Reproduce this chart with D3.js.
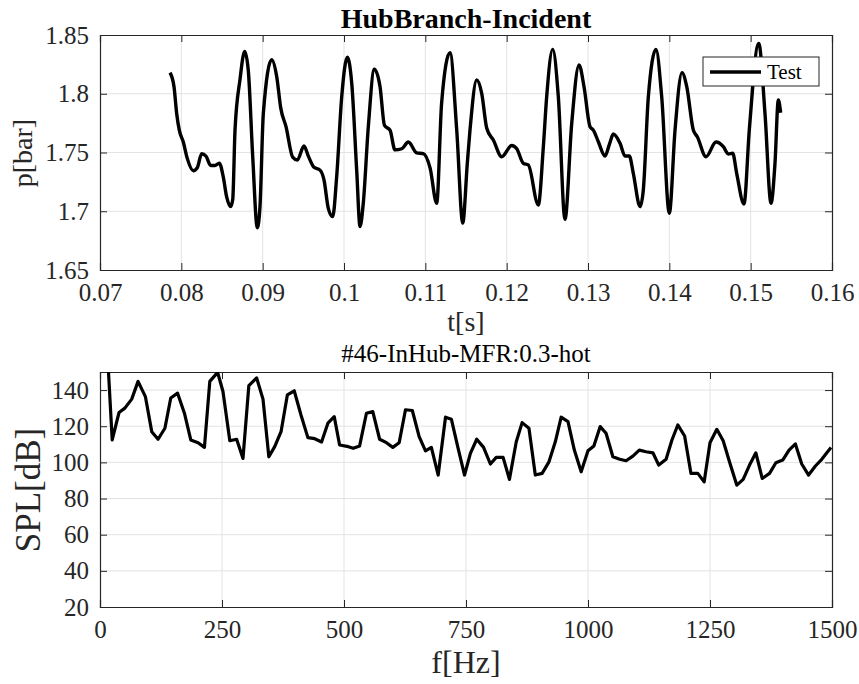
<!DOCTYPE html>
<html>
<head>
<meta charset="utf-8">
<script src="https://cdn.jsdelivr.net/npm/d3@7"></script>
<style>
  body { margin: 0; background: #fff; }
</style>
</head>
<body>
<div id="chart"></div>
<script>
// top panel: pressure signal
let timeS = [0.07861, 0.07910, 0.07943, 0.07975, 0.08024, 0.08073, 0.08147, 0.08196, 0.08250, 0.08303,
  0.08361, 0.08414, 0.08467, 0.08516, 0.08558, 0.08607, 0.08632, 0.08660, 0.08721, 0.08779,
  0.08823, 0.08878, 0.08934, 0.08967, 0.09008, 0.09111, 0.09173, 0.09222, 0.09287, 0.09369,
  0.09426, 0.09508, 0.09561, 0.09631, 0.09705, 0.09754, 0.09807, 0.09861, 0.09910, 0.09972,
  0.10041, 0.10095, 0.10156, 0.10197, 0.10237, 0.10299, 0.10373, 0.10443, 0.10498, 0.10566,
  0.10627, 0.10710, 0.10791, 0.10894, 0.10975, 0.11058, 0.11140, 0.11200, 0.11303, 0.11386,
  0.11460, 0.11516, 0.11549, 0.11632, 0.11693, 0.11755, 0.11836, 0.11939, 0.12062, 0.12124,
  0.12205, 0.12266, 0.12389, 0.12451, 0.12492, 0.12566, 0.12635, 0.12717, 0.12800, 0.12890,
  0.12951, 0.13025, 0.13066, 0.13127, 0.13209, 0.13267, 0.13311, 0.13394, 0.13455, 0.13508,
  0.13557, 0.13640, 0.13680, 0.13742, 0.13836, 0.13906, 0.14000, 0.14070, 0.14156, 0.14214,
  0.14295, 0.14344, 0.14451, 0.14574, 0.14664, 0.14725, 0.14779, 0.14828, 0.14918, 0.14983,
  0.15099, 0.15176, 0.15250, 0.15299, 0.15340, 0.15369]
let pressureBar = [1.818, 1.806, 1.783, 1.769, 1.759, 1.745, 1.7345, 1.737, 1.749, 1.747,
  1.739, 1.739, 1.741, 1.729, 1.712, 1.704, 1.710, 1.769, 1.812, 1.836,
  1.820, 1.746, 1.686, 1.704, 1.783, 1.829, 1.8145, 1.788, 1.772, 1.746,
  1.7436, 1.7555, 1.747, 1.7374, 1.735, 1.7266, 1.7025, 1.6954, 1.7294, 1.7975,
  1.831, 1.809, 1.735, 1.687, 1.7068, 1.772, 1.8208, 1.806, 1.773, 1.769,
  1.7522, 1.7532, 1.7589, 1.7497, 1.749, 1.7369, 1.7068, 1.7919, 1.835, 1.769,
  1.690, 1.7408, 1.769, 1.8117, 1.8004, 1.7706, 1.7606, 1.7464, 1.756, 1.7532,
  1.7408, 1.7394, 1.7053, 1.7549, 1.7975, 1.8378, 1.7975, 1.6932, 1.7749, 1.8245,
  1.806, 1.772, 1.769, 1.7592, 1.747, 1.7578, 1.7657, 1.7578, 1.747, 1.747,
  1.7323, 1.7039, 1.7181, 1.7975, 1.8378, 1.7975, 1.6983, 1.7691, 1.818, 1.806,
  1.7691, 1.7634, 1.7464, 1.7589, 1.7549, 1.7487, 1.7493, 1.7323, 1.7062, 1.7691,
  1.8429, 1.7834, 1.7068, 1.7408, 1.7947, 1.7839]

// bottom panel: spectrum
let freqHz = [17, 25, 39, 51, 65, 78, 93, 106, 119, 133, 145, 159, 173, 186, 201, 214, 225, 241, 252, 266,
  280, 293, 305, 321, 334, 346, 358, 371, 384, 398, 412, 426, 440, 454, 467, 480, 491, 509, 519, 532,
  546, 559, 573, 587, 600, 613, 626, 640, 654, 667, 679, 693, 708, 720, 733, 747, 759, 772, 786, 800,
  812, 826, 839, 853, 865, 879, 892, 906, 920, 933, 945, 959, 972, 986, 1000, 1012, 1025, 1037, 1051, 1065,
  1078, 1092, 1105, 1119, 1133, 1145, 1160, 1172, 1184, 1198, 1211, 1225, 1238, 1250, 1264, 1277, 1291, 1305, 1318, 1331,
  1344, 1357, 1372, 1385, 1399, 1412, 1425, 1438, 1452, 1466, 1479, 1498]
let splDb = [152, 112.4, 127.6, 130.0, 135.0, 144.8, 136.4, 117.0, 112.8, 118.9, 135.6, 138.3, 127.2, 112.4, 110.9, 108.3, 144.8, 149.8, 139.2, 112.0,
  112.8, 102.2, 142.4, 146.7, 135.0, 103.1, 108.7, 117.0, 137.4, 139.6, 126.1, 113.7, 113.1, 111.3, 121.7, 125.3, 109.6, 108.7, 107.8, 109.1,
  127.2, 128.1, 112.8, 110.9, 108.3, 110.9, 129.1, 128.7, 114.2, 106.4, 108.3, 93.0, 125.0, 123.9, 108.7, 93.0, 105.0, 112.8, 108.3, 99.1,
  102.8, 102.8, 90.6, 111.4, 122.0, 118.9, 93.0, 93.9, 100.3, 111.4, 125.0, 122.6, 106.8, 94.8, 106.4, 109.1, 119.8, 116.1, 103.1, 101.7,
  100.9, 103.5, 106.8, 105.9, 105.3, 98.5, 101.7, 112.4, 120.7, 114.6, 93.9, 93.9, 89.2, 110.9, 118.3, 112.0, 99.4, 87.4, 90.6, 98.5,
  105.3, 91.1, 93.9, 99.8, 101.3, 106.8, 110.2, 99.1, 93.0, 98.0, 101.7, 108.3]

let topXTicks = [0.07, 0.08, 0.09, 0.1, 0.11, 0.12, 0.13, 0.14, 0.15, 0.16]
let topYTicks = [1.65, 1.7, 1.75, 1.8, 1.85]
let botXTicks = [0, 250, 500, 750, 1000, 1250, 1500]
let botYTicks = [20, 40, 60, 80, 100, 120, 140]

let width = 859
let height = 684
let left = 100
let right = 832
let tickLen = 7
let serif = "'Liberation Serif', 'Times New Roman', serif"
let axisCol = "#262626"

let svg = d3.select("#chart").append("svg")
  .attr("width", width)
  .attr("height", height)

function label(x, y, txt, size, opts = {}) {
  let t = svg.append("text")
    .attr("text-anchor", "middle")
    .style("font-family", serif)
    .style("font-size", size + "px")
    .style("font-weight", opts.bold ? "bold" : "normal")
    .style("fill", opts.fill || "#000")
    .text(txt)
  if (opts.rotate) t.attr("transform", `translate(${x},${y}) rotate(-90)`)
  else t.attr("x", x).attr("y", y)
  return t
}

function drawPanel(opt) {
  let x = d3.scaleLinear().domain(opt.xDomain).range([left, right])
  let y = d3.scaleLinear().domain(opt.yDomain).range([opt.bottom, opt.top])
  let g = svg.append("g")

  // grid
  let grid = g.append("g")
  grid.selectAll(".gx").data(opt.xTicks.slice(1, -1)).join("line")
    .attr("class", "gx")
    .attr("x1", d => x(d)).attr("x2", d => x(d))
    .attr("y1", opt.top).attr("y2", opt.bottom)
  grid.selectAll(".gy").data(opt.yTicks.filter(v => y(v) > opt.top + 1 && y(v) < opt.bottom - 1)).join("line")
    .attr("class", "gy")
    .attr("x1", left).attr("x2", right)
    .attr("y1", d => y(d)).attr("y2", d => y(d))
  grid.selectAll("line").attr("stroke", "#e3e3e3").attr("stroke-width", 1)

  // axes, MATLAB style: inward ticks on all sides
  let bx = g.append("g")
    .attr("transform", `translate(0,${opt.bottom})`)
    .call(d3.axisBottom(x).tickValues(opt.xTicks).tickSize(-tickLen).tickPadding(13).tickFormat(opt.xFmt))
  bx.selectAll("text").attr("dy", "0.71em")
  let tx = g.append("g")
    .attr("transform", `translate(0,${opt.top})`)
    .call(d3.axisTop(x).tickValues(opt.xTicks).tickSize(-tickLen).tickFormat(""))
  let ly = g.append("g")
    .attr("transform", `translate(${left},0)`)
    .call(d3.axisLeft(y).tickValues(opt.yTicks).tickSize(-tickLen).tickPadding(11).tickFormat(opt.yFmt))
  let ry = g.append("g")
    .attr("transform", `translate(${right},0)`)
    .call(d3.axisRight(y).tickValues(opt.yTicks).tickSize(-tickLen).tickFormat(""))
  for (let a of [bx, tx, ly, ry]) {
    a.selectAll("path, line").attr("stroke", axisCol)
    a.select(".domain").attr("stroke-width", 1.2)
    a.selectAll("text")
      .style("font-family", serif)
      .style("font-size", "25px")
      .style("fill", axisCol)
  }

  // clip
  let clipId = "clip" + opt.top
  svg.append("clipPath").attr("id", clipId).append("rect")
    .attr("x", left).attr("y", opt.top).attr("width", right - left).attr("height", opt.bottom - opt.top)

  let line = d3.line().x(d => x(d[0])).y(d => y(d[1])).curve(opt.curve)
  g.append("path")
    .datum(d3.zip(opt.xs, opt.ys))
    .attr("clip-path", `url(#${clipId})`)
    .attr("fill", "none")
    .attr("stroke", "#000")
    .attr("stroke-width", opt.lw)
    .attr("stroke-linejoin", "round")
    .attr("d", line)

  return { x, y, g }
}

// top panel
drawPanel({
  top: 35, bottom: 270,
  xDomain: [0.07, 0.16], yDomain: [1.65, 1.85],
  xTicks: topXTicks, yTicks: topYTicks,
  xFmt: d => String(+d.toFixed(2)), yFmt: d => String(+d.toFixed(2)),
  xs: timeS, ys: pressureBar, curve: d3.curveMonotoneX, lw: 3.4
})

label((left + right) / 2, 28, "HubBranch-Incident", 28, { bold: true })
label((left + right) / 2, 331, "t[s]", 28, { fill: axisCol })
label(32, 153, "p[bar]", 28, { fill: axisCol, rotate: true })

// legend
let leg = svg.append("g")
leg.append("rect")
  .attr("x", 703).attr("y", 57).attr("width", 116).attr("height", 29)
  .attr("fill", "#fff").attr("stroke", axisCol).attr("stroke-width", 1)
leg.append("line")
  .attr("x1", 710).attr("x2", 761).attr("y1", 72).attr("y2", 72)
  .attr("stroke", "#000").attr("stroke-width", 3.4)
leg.append("text")
  .attr("x", 767).attr("y", 79)
  .style("font-family", serif)
  .style("font-size", "21px")
  .text("Test")

// bottom panel
drawPanel({
  top: 372, bottom: 607,
  xDomain: [0, 1500], yDomain: [20, 150],
  xTicks: botXTicks, yTicks: botYTicks,
  xFmt: d => d, yFmt: d => d,
  xs: freqHz, ys: splDb, curve: d3.curveLinear, lw: 3.2
})

label((left + right) / 2, 362, "#46-InHub-MFR:0.3-hot", 25)
label((left + right) / 2, 673, "f[Hz]", 32, { fill: axisCol })
label(40, 490, "SPL[dB]", 35, { fill: axisCol, rotate: true })
</script>
</body>
</html>
